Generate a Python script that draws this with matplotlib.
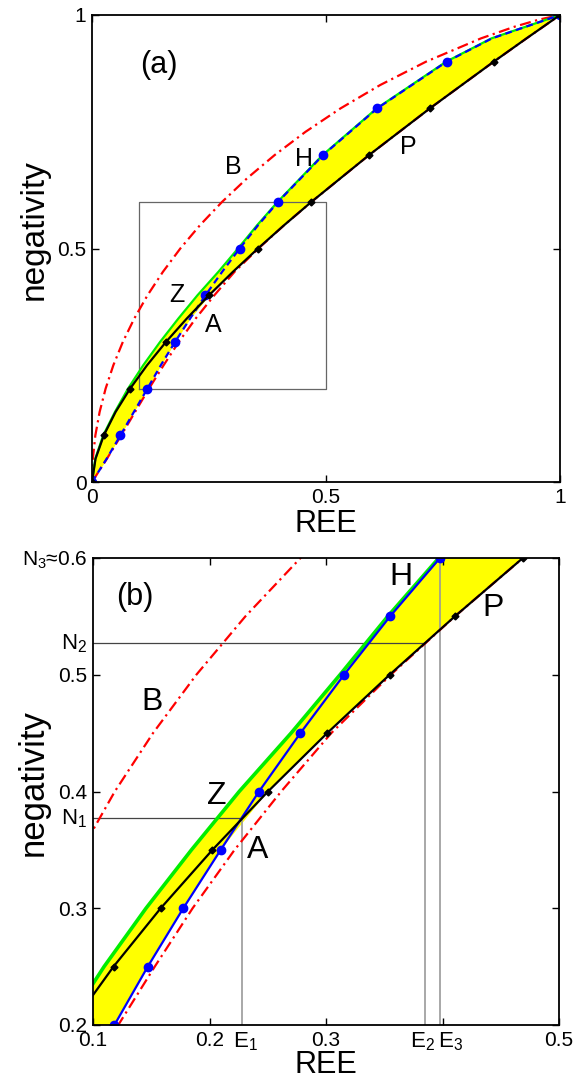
import numpy as np
import matplotlib.pyplot as plt

plt.rcParams['font.family'] = ['Liberation Sans', 'DejaVu Sans']
plt.rcParams['mathtext.fontset'] = 'custom'
plt.rcParams['mathtext.rm'] = 'Liberation Sans'

# negativity grid shared by the P, H and Z curves
neg = [0, 0.05, 0.1, 0.15, 0.2, 0.25, 0.3, 0.35, 0.4, 0.45, 0.5, 0.55, 0.6, 0.7, 0.8, 0.9, 0.95, 1.0]
ree_P = [0, 0.0076, 0.0253, 0.0504, 0.0815, 0.1176, 0.1581, 0.2025, 0.2502, 0.3010, 0.3546,
         0.4106, 0.4690, 0.5919, 0.7219, 0.8583, 0.9285, 1.0]
ree_H = [0, 0.0315, 0.0608, 0.0895, 0.1184, 0.1470, 0.1775, 0.2096, 0.2425, 0.2780, 0.3155,
         0.3550, 0.3978, 0.4937, 0.6094, 0.7577, 0.8547, 1.0]
ree_Z = [0, 0.0070, 0.0240, 0.0490, 0.0770, 0.1095, 0.1455, 0.1845, 0.2255, 0.2700, 0.3120,
         0.3530, 0.3968, 0.4927, 0.6084, 0.7567, 0.8537, 1.0]

neg_A = [0, 0.05, 0.1, 0.15, 0.2, 0.25, 0.3, 0.35, 0.4, 0.45, 0.5, 0.55, 0.6, 0.7, 0.8, 0.9, 0.95, 1.0]
ree_A = [0, 0.032, 0.0625, 0.092, 0.1217, 0.153, 0.1855, 0.2215, 0.2615, 0.3045, 0.3556,
         0.4106, 0.4690, 0.5919, 0.7219, 0.8583, 0.9285, 1.0]

neg_B = [0, 0.025, 0.05, 0.1, 0.15, 0.2, 0.25, 0.3, 0.35, 0.4, 0.45, 0.5, 0.55, 0.6, 0.65,
         0.7, 0.75, 0.8, 0.85, 0.9, 0.95, 0.975, 0.99, 1.0]
ree_B = [0, 0.00045, 0.0018, 0.0072, 0.0163, 0.0291, 0.0456, 0.0659, 0.0903, 0.1187, 0.1515,
         0.1887, 0.2308, 0.2781, 0.3310, 0.3902, 0.4564, 0.5310, 0.6157, 0.7136, 0.8313,
         0.9031, 0.9546, 1.0]

# special points in panel (b)
N1, E1 = 0.377, 0.2276
N2, E2 = 0.527, 0.385
N3, E3 = 0.6, 0.398

neg = np.array(neg)
P = np.array(ree_P)
H = np.array(ree_H)
Z = np.array(ree_Z)
left = np.minimum(Z, H)
right = np.maximum(H, P)
every01 = np.where(np.isclose(neg * 10, np.round(neg * 10)))[0].tolist()

fig = plt.figure(figsize=(5.81, 10.83), dpi=100)
axa = fig.add_axes([92/581, 1-482/1083, 468/581, 467/1083])
axb = fig.add_axes([93/581, 1-1025/1083, 466/581, 467/1083])

dashdot = (0, (5, 2, 1, 2))


def curves(ax, blue_ls, marks, lw, gw):
    ax.fill_betweenx(neg, left, right, color='#ffff00', lw=0, zorder=1)
    ax.plot(ree_B, neg_B, color='red', ls=dashdot, lw=lw, zorder=3)
    ax.plot(ree_A, neg_A, color='red', ls=dashdot, lw=lw, zorder=3)
    ax.plot(Z, neg, color='#00ee00', lw=gw, zorder=4)
    ax.plot(H, neg, color='blue', ls=blue_ls, lw=lw, marker='o', ms=6,
            markevery=marks, zorder=5)
    ax.plot(P, neg, color='black', lw=lw, marker='D', ms=3.5,
            markevery=marks, zorder=6)


def frame(ax):
    ax.tick_params(direction='in', length=5, width=1, top=True, right=True,
                   labelsize=15, pad=4)
    for s in ax.spines.values():
        s.set_linewidth(1.3)
        s.set_zorder(10)


# ---- panel (a)
curves(axa, (0, (3, 2)), every01, 1.6, 1.6)
axa.plot([0.1, 0.5, 0.5, 0.1, 0.1], [0.2, 0.2, 0.6, 0.6, 0.2], color='#666666', lw=0.9, zorder=2)
axa.set_xlim(0, 1)
axa.set_ylim(0, 1)
axa.set_xticks([0, 0.5, 1])
axa.set_xticklabels(['0', '0.5', '1'])
axa.set_yticks([0, 0.5, 1])
axa.set_yticklabels(['0', '0.5', '1'])
frame(axa)
axa.set_xlabel('REE', fontsize=22, labelpad=2)
axa.set_ylabel('negativity', fontsize=24)
axa.yaxis.set_label_coords(-0.09, 0.54)
for t, x, y in [('(a)', 0.143, 0.893), ('B', 0.303, 0.675), ('H', 0.453, 0.691),
                ('P', 0.675, 0.718), ('Z', 0.181, 0.40), ('A', 0.259, 0.336)]:
    axa.text(x, y, t, fontsize=22 if t == '(a)' else 18, ha='center', va='center', zorder=12)

# ---- panel (b)
curves(axb, '-', None, 1.6, 2.6)
axb.plot([0.1, E1], [N1, N1], color='#444444', lw=0.9, zorder=2)
axb.plot([E1, E1], [0.2, N1], color='#999999', lw=1.2, zorder=2)
axb.plot([0.1, E2], [N2, N2], color='#444444', lw=0.9, zorder=2)
axb.plot([E2, E2], [0.2, N2], color='#999999', lw=1.2, zorder=2)
axb.plot([E3, E3], [0.2, N3], color='#999999', lw=1.2, zorder=2)
axb.set_xlim(0.1, 0.5)
axb.set_ylim(0.2, 0.6)
axb.set_xticks([0.1, 0.2, 0.3, 0.4, 0.5])
axb.set_xticklabels(['0.1', '0.2', '0.3', '', '0.5'])
axb.set_yticks([0.2, 0.3, 0.4, 0.5, 0.6])
axb.set_yticklabels(['0.2', '0.3', '0.4', '0.5', r'$\mathregular{N_3}$≈0.6'])
frame(axb)
tr = axb.get_xaxis_transform()
for t, x in [(r'$\mathregular{E_1}$', 0.2305), (r'$\mathregular{E_2}$', 0.3825),
             (r'$\mathregular{E_3}$', 0.407)]:
    axb.text(x, -0.012, t, transform=tr, fontsize=16, ha='center', va='top')
tr = axb.get_yaxis_transform()
for t, y in [(r'$\mathregular{N_1}$', N1), (r'$\mathregular{N_2}$', N2)]:
    axb.text(-0.012, y, t, transform=tr, fontsize=16, ha='right', va='center')
axb.set_xlabel('REE', fontsize=22, labelpad=0)
axb.set_ylabel('negativity', fontsize=25)
axb.yaxis.set_label_coords(-0.092, 0.52)
for t, x, y in [('(b)', 0.136, 0.567), ('B', 0.151, 0.477), ('H', 0.364, 0.584),
                ('P', 0.443, 0.557), ('Z', 0.2064, 0.396), ('A', 0.241, 0.35)]:
    axb.text(x, y, t, fontsize=22 if t == '(b)' else 23, ha='center', va='center', zorder=12)

fig.savefig('out.png', dpi=100)
